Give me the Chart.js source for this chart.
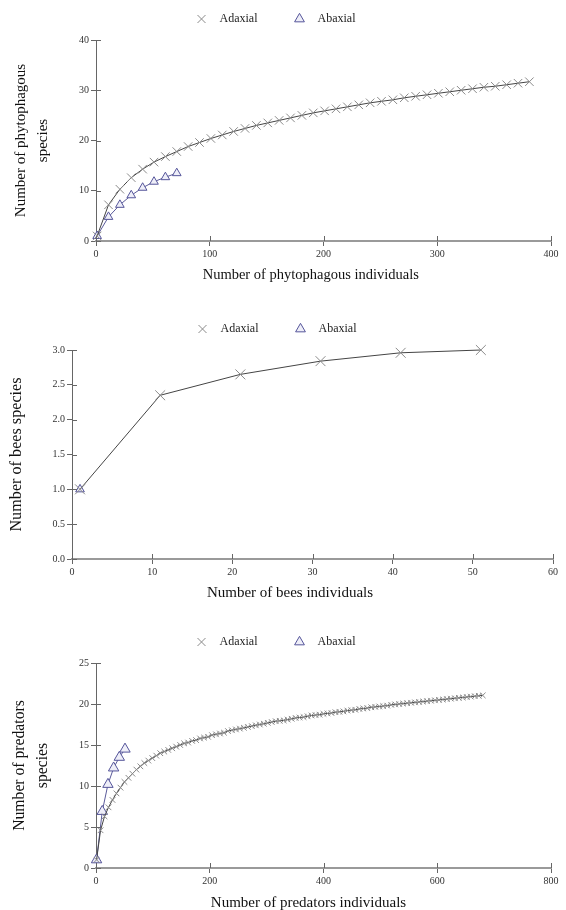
<!DOCTYPE html>
<html>
<head>
<meta charset="utf-8">
<script src="https://cdn.jsdelivr.net/npm/chart.js@4.4.1/dist/chart.umd.min.js"></script>
<style>
body { margin: 0; background: #fff; }
.box { position: absolute; left: 0; width: 566px; }
</style>
</head>
<body>
<div class="box" style="top:0;height:295px"><canvas id="chart-phyto" width="566" height="295"></canvas></div>
<div class="box" style="top:300px;height:305px"><canvas id="chart-bees" width="566" height="305"></canvas></div>
<div class="box" style="top:610px;height:300px"><canvas id="chart-pred" width="566" height="300"></canvas></div>
<script>
// phytophagous
const phyAdaxN = [1, 11, 21, 31, 41, 51, 61, 71, 81, 91, 101, 111, 121, 131, 141, 151, 161, 171, 181, 191,
    201, 211, 221, 231, 241, 251, 261, 271, 281, 291, 301, 311, 321, 331, 341, 351, 361, 371, 381];
const phyAdaxS = [1.0, 7.2, 10.3, 12.6, 14.3, 15.7, 16.8, 17.8, 18.8, 19.6, 20.4, 21.1, 21.8, 22.4, 23.0, 23.5, 24.0, 24.5, 25.0, 25.5,
    25.9, 26.3, 26.7, 27.1, 27.5, 27.8, 28.1, 28.5, 28.8, 29.1, 29.4, 29.7, 30.0, 30.3, 30.6, 30.8, 31.1, 31.4, 31.7];
const phyAbaxN = [1, 11, 21, 31, 41, 51, 61, 71];
const phyAbaxS = [1.0, 4.8, 7.2, 9.1, 10.6, 11.8, 12.7, 13.5];

// bees
const beeAdaxN = [1, 11, 21, 31, 41, 51];
const beeAdaxS = [1.0, 2.35, 2.65, 2.84, 2.96, 3.0];
const beeAbaxN = [1];
const beeAbaxS = [1.0];

// predators
const predAdaxN = [1, 8, 15, 22, 29, 36, 43, 50, 57, 64, 71, 78, 85, 92, 99, 106, 113, 120, 127, 134,
    141, 148, 155, 162, 169, 176, 183, 190, 197, 204, 211, 218, 225, 232, 239, 246, 253, 260, 267, 274,
    281, 288, 295, 302, 309, 316, 323, 330, 337, 344, 351, 358, 365, 372, 379, 386, 393, 400, 407, 414,
    421, 428, 435, 442, 449, 456, 463, 470, 477, 484, 491, 498, 505, 512, 519, 526, 533, 540, 547, 554,
    561, 568, 575, 582, 589, 596, 603, 610, 617, 624, 631, 638, 645, 652, 659, 666, 673, 680];
const predAdaxS = [1.0, 4.6, 6.3, 7.4, 8.3, 9.1, 9.8, 10.5, 11.0, 11.5, 12.0, 12.4, 12.8, 13.1, 13.4, 13.7, 14.0, 14.2, 14.4, 14.6,
    14.8, 15.0, 15.2, 15.3, 15.5, 15.6, 15.8, 15.9, 16.0, 16.2, 16.3, 16.4, 16.5, 16.7, 16.8, 16.9, 17.0, 17.1, 17.2, 17.3,
    17.4, 17.5, 17.6, 17.7, 17.8, 17.9, 17.95, 18.0, 18.1, 18.2, 18.3, 18.35, 18.4, 18.5, 18.6, 18.65, 18.7, 18.8, 18.85, 18.9,
    19.0, 19.05, 19.1, 19.2, 19.25, 19.3, 19.4, 19.45, 19.5, 19.6, 19.65, 19.7, 19.75, 19.8, 19.9, 19.95, 20.0, 20.05, 20.1, 20.15,
    20.2, 20.25, 20.3, 20.35, 20.4, 20.45, 20.5, 20.55, 20.6, 20.65, 20.7, 20.75, 20.8, 20.85, 20.9, 20.95, 21.0, 21.05];
const predAbaxN = [1, 11, 21, 31, 41, 51];
const predAbaxS = [1.0, 6.9, 10.2, 12.2, 13.5, 14.5];

const seriesNames = ["Adaxial", "Abaxial"];
const SERIF = "'Liberation Serif', 'Times New Roman', serif";

function pts(xs, ys) {
    return xs.map((x, i) => ({ x: x, y: ys[i] }));
}

// a bit more room between legend and plot
const legendGap = {
    id: "legendGap",
    beforeInit(chart) {
        const fit = chart.legend.fit;
        chart.legend.fit = function () {
            fit.call(this);
            this.height += 5;
        };
    }
};

// tick marks that cross the axis line (inner half)
const innerTicks = {
    id: "innerTicks",
    afterDraw(chart) {
        const { ctx, chartArea, scales } = chart;
        ctx.save();
        ctx.strokeStyle = "#666";
        ctx.lineWidth = 1;
        ctx.beginPath();
        scales.x.ticks.forEach(t => {
            const px = Math.round(scales.x.getPixelForValue(t.value)) + 0.5;
            ctx.moveTo(px, chartArea.bottom);
            ctx.lineTo(px, chartArea.bottom - 5);
        });
        scales.y.ticks.forEach(t => {
            const py = Math.round(scales.y.getPixelForValue(t.value)) + 0.5;
            ctx.moveTo(chartArea.left, py);
            ctx.lineTo(chartArea.left + 5, py);
        });
        ctx.stroke();
        ctx.restore();
    }
};

function createCurveChart(canvasId, s) {
    const ctx = document.getElementById(canvasId).getContext("2d");
    new Chart(ctx, {
        type: "line",
        data: {
            datasets: [{
                label: seriesNames[0],
                data: pts(s.adaxN, s.adaxS),
                borderColor: "#444",
                borderWidth: 1,
                pointStyle: "crossRot",
                pointRadius: s.crossR,
                pointBorderColor: "#8a8a8a",
                pointBorderWidth: 1,
                pointBackgroundColor: "#8a8a8a",
                tension: 0,
                clip: false
            }, {
                label: seriesNames[1],
                data: pts(s.abaxN, s.abaxS),
                borderColor: "#5a5a9a",
                borderWidth: 1,
                pointStyle: "triangle",
                pointRadius: s.triR,
                pointBorderColor: "#55559a",
                pointBorderWidth: 1,
                pointBackgroundColor: "#eeeef8",
                tension: 0,
                clip: false
            }]
        },
        options: {
            responsive: false,
            animation: false,
            layout: { padding: { top: s.padTop, right: s.padRight, bottom: 0, left: 0 } },
            plugins: {
                legend: {
                    position: "top",
                    labels: {
                        usePointStyle: true,
                        boxHeight: 8,
                        padding: 36,
                        color: "#222",
                        font: { family: SERIF, size: 12 },
                        generateLabels: chart => {
                            const items = Chart.defaults.plugins.legend.labels.generateLabels(chart);
                            items.forEach(it => { it.text = "  " + it.text; });
                            return items;
                        }
                    }
                },
                tooltip: { enabled: false }
            },
            scales: {
                x: {
                    type: "linear",
                    min: 0,
                    max: s.xMax,
                    grid: { drawOnChartArea: false, tickLength: 5, color: "#666" },
                    border: { color: "#9a9a9a", width: 2 },
                    ticks: { stepSize: s.xStep, padding: 2, color: "#333", font: { family: SERIF, size: 10 } },
                    title: {
                        display: true,
                        // trailing blanks pull the title a little left of the plot centre, as in the original
                        text: s.xTitle + " ".repeat(s.xShift),
                        color: "#111",
                        font: { family: SERIF, size: s.xFont },
                        padding: { top: 0, bottom: s.xTitlePad }
                    },
                    afterFit: sc => { sc.height = s.xHeight; }
                },
                y: {
                    min: 0,
                    max: s.yMax,
                    grid: { drawOnChartArea: false, tickLength: 5, color: "#666" },
                    border: { color: "#666", width: 1 },
                    ticks: {
                        stepSize: s.yStep,
                        padding: 2,
                        color: "#333",
                        font: { family: SERIF, size: 10 },
                        callback: v => s.yDec ? v.toFixed(s.yDec) : v
                    },
                    title: {
                        display: true,
                        text: s.yTitle,
                        color: "#111",
                        font: { family: SERIF, size: s.yFont, lineHeight: 1.45 },
                        padding: { top: s.yTitlePad, bottom: 0 }
                    },
                    afterFit: sc => { sc.width = s.yWidth; }
                }
            }
        },
        plugins: [legendGap, innerTicks]
    });
}

createCurveChart("chart-phyto", {
    adaxN: phyAdaxN, adaxS: phyAdaxS, abaxN: phyAbaxN, abaxS: phyAbaxS,
    crossR: 6, triR: 5,
    xMax: 400, xStep: 100, yMax: 40, yStep: 10, yDec: 0,
    xTitle: "Number of phytophagous individuals",
    yTitle: ["Number of phytophagous", "species"],
    xFont: 14.5, yFont: 15, xShift: 7,
    padTop: -23, padRight: 15, xHeight: 54, yWidth: 96, xTitlePad: 11, yTitlePad: 10
});

createCurveChart("chart-bees", {
    adaxN: beeAdaxN, adaxS: beeAdaxS, abaxN: beeAbaxN, abaxS: beeAbaxS,
    crossR: 7, triR: 5,
    xMax: 60, xStep: 10, yMax: 3, yStep: 0.5, yDec: 1,
    xTitle: "Number of bees individuals",
    yTitle: "Number of bees species",
    xFont: 15, yFont: 16.2, xShift: 12,
    padTop: -13, padRight: 13, xHeight: 46, yWidth: 72, xTitlePad: 3, yTitlePad: 5
});

createCurveChart("chart-pred", {
    adaxN: predAdaxN, adaxS: predAdaxS, abaxN: predAbaxN, abaxS: predAbaxS,
    crossR: 4, triR: 6,
    xMax: 800, xStep: 200, yMax: 25, yStep: 5, yDec: 0,
    xTitle: "Number of predators individuals",
    yTitle: ["Number of predators", "species"],
    xFont: 15, yFont: 15.7, xShift: 8,
    padTop: -10, padRight: 15, xHeight: 42, yWidth: 96, xTitlePad: -2, yTitlePad: 9
});
</script>
</body>
</html>
